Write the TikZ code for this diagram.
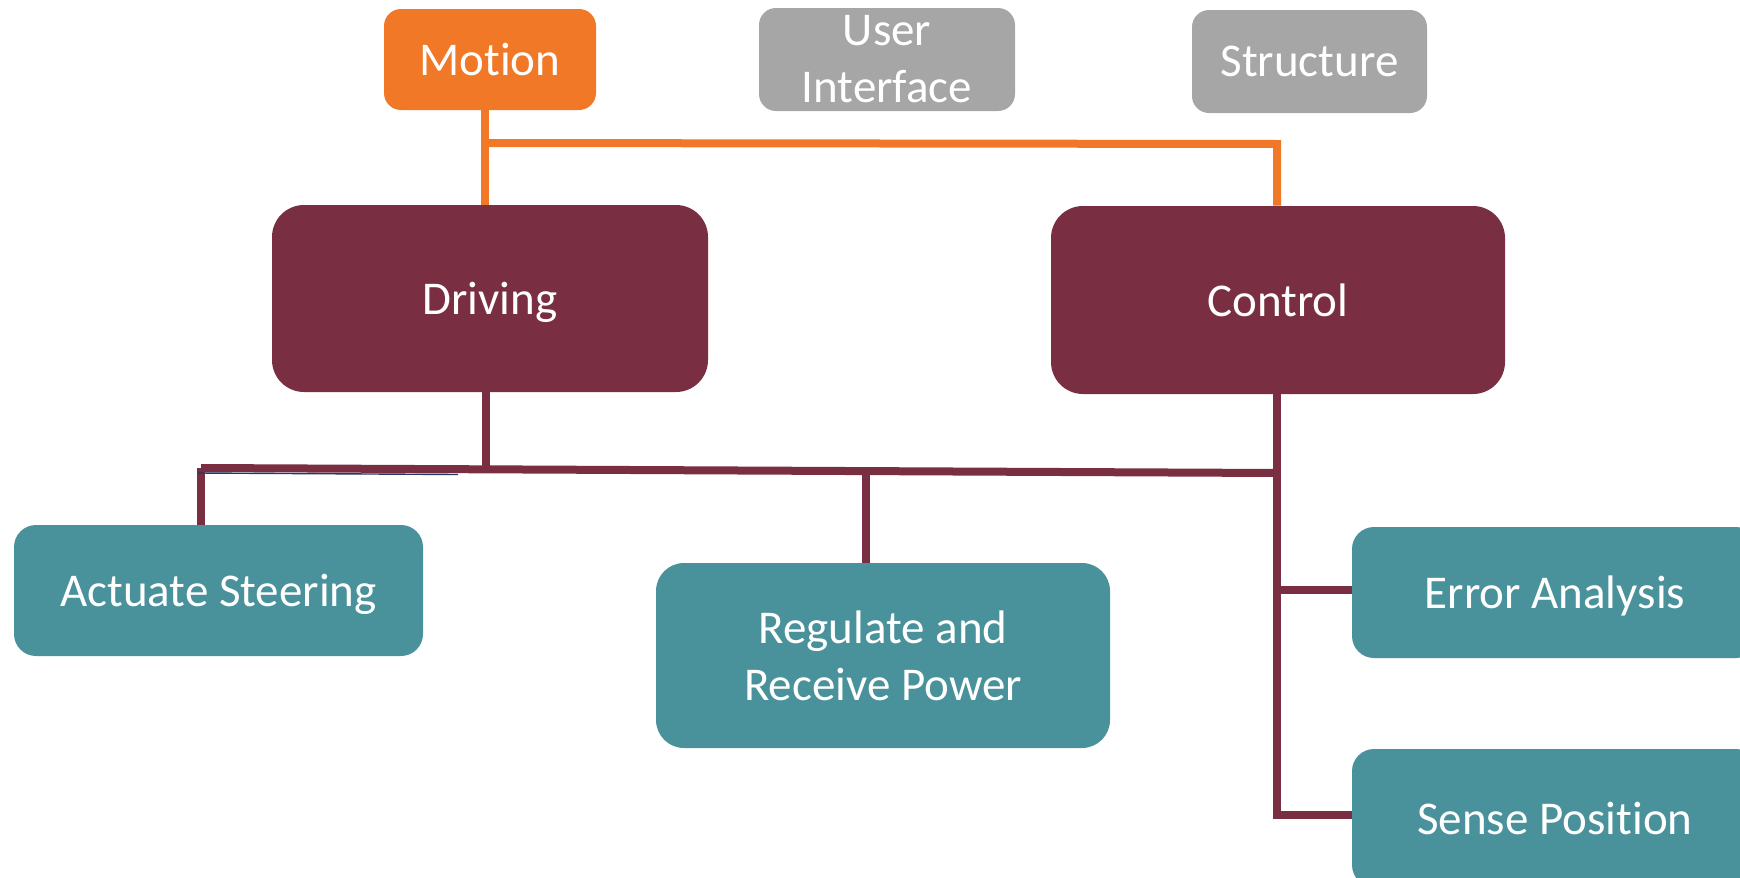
\documentclass[tikz,border=0pt]{standalone}
\usepackage{fontspec}
\setmainfont{Carlito}[Ligatures=NoCommon]
\usetikzlibrary{calc}
\definecolor{motionorange}{HTML}{F07826}
\definecolor{idlegray}{HTML}{A6A6A6}
\definecolor{subsysmaroon}{HTML}{7A2E41}
\definecolor{functeal}{HTML}{4A929B}
\definecolor{guidenavy}{HTML}{1F3864}
\tikzset{
  box/.style={rectangle, text=white, inner sep=0pt, align=center,
    font=\fontsize{23.5}{28.5}\selectfont},
  oneline/.style={text depth=0pt},
  topbox/.style={box, rounded corners=8.5pt},
  bigbox/.style={box, oneline, fill=subsysmaroon, rounded corners=16pt},
  leafbox/.style={box, fill=functeal, rounded corners=11pt},
  oline/.style={draw=motionorange, line width=4pt},
  mline/.style={draw=subsysmaroon, line width=4pt},
}
\begin{document}
\begin{tikzpicture}[x=0.5pt,y=-0.5pt]
\useasboundingbox (0,0) rectangle (1740,878);
\clip (0,0) rectangle (1740,878);

% top-level categories
\node[topbox, oneline, fill=motionorange, minimum width=106pt, minimum height=50.5pt] (Motion) at (490,59.5) {Motion};
\node[topbox, fill=idlegray, minimum width=128pt, minimum height=51.5pt] (UI) at (887,59.5) {User\\Interface};
\node[topbox, oneline, fill=idlegray, minimum width=117.5pt, minimum height=51.5pt] (Structure) at (1309.5,61.5) {Structure};

% subsystems
\node[bigbox, minimum width=218pt, minimum height=93.5pt] (Driving) at (490,298.5) {Driving};
\node[bigbox, minimum width=227pt, minimum height=94pt] (Control) at (1278,300) {Control};

% functions
\node[leafbox, oneline, minimum width=204.5pt, minimum height=65.5pt] (Actuate) at (218.5,590.5) {Actuate Steering};
\node[leafbox, rounded corners=14pt, minimum width=227pt, minimum height=92.5pt] (Regulate) at (883,655.5) {Regulate and\\Receive Power};
\node[leafbox, oneline, minimum width=203pt, minimum height=65.5pt] (Error) at (1555,592.5) {Error Analysis};
\node[leafbox, oneline, minimum width=203pt, minimum height=69pt] (Sense) at (1555,818) {Sense Position};

% orange links from Motion
\coordinate (oa) at (485,143);
\coordinate (ob) at (1277,144);
\draw[oline] (Motion.south -| oa) -- (Driving.north -| oa);
\draw[oline, line join=miter] (oa) -- (ob) -- (Control.north -| ob);

% maroon tree below the subsystems
\coordinate (mj) at (486,468);
\coordinate (ml) at (201,468);
\coordinate (mr) at (1277,473);
\coordinate (mm) at (866,471);
\coordinate (me) at (1277,590);
\coordinate (mc) at (1277,815);
\coordinate (nv1) at (198,473);
\coordinate (nv2) at (458,474.5);
\draw[mline] (Driving.south -| mj) -- (mj);
\draw[mline] (ml) -- (mr);
\draw[mline] (ml) -- (Actuate.north -| ml);
\draw[mline] (mm) -- (Regulate.north -| mm);
\draw[guidenavy, line width=0.7pt] (nv1) -- (nv2);
\draw[mline, line join=miter] (Control.south -| mc) -- (mc) -- (Sense.west |- mc);
\draw[mline] (me) -- (Error.west |- me);
\end{tikzpicture}
\end{document}
